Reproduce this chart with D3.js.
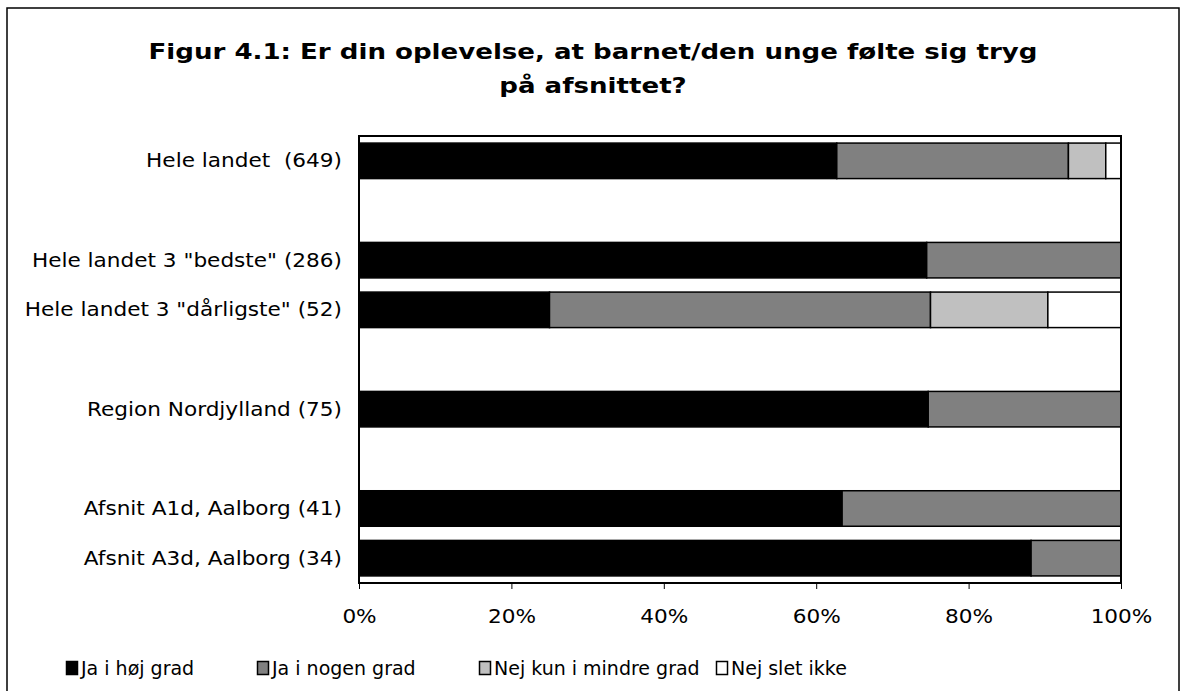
<!DOCTYPE html>
<html>
<head>
<meta charset="utf-8">
<script src="https://cdn.jsdelivr.net/npm/d3@7"></script>
<style>
  html, body { margin: 0; padding: 0; background: #fff; }
  svg { display: block; }
  text { font-family: "DejaVu Sans", Verdana, sans-serif; fill: #000; white-space: pre; }
</style>
</head>
<body>
<svg id="chart" width="1187" height="691"></svg>
<script>
// ---- Data ----
const titleLines = ["Figur 4.1: Er din oplevelse, at barnet/den unge følte sig tryg", "på afsnittet?"];
const categories = [
  "Hele landet  (649)",
  "",
  "Hele landet 3 \"bedste\" (286)",
  "Hele landet 3 \"dårligste\" (52)",
  "",
  "Region Nordjylland (75)",
  "",
  "Afsnit A1d, Aalborg (41)",
  "Afsnit A3d, Aalborg (34)"
];
const seriesNames = ["Ja i høj grad", "Ja i nogen grad", "Nej kun i mindre grad", "Nej slet ikke"];
const jaHoejGrad      = [62.7, 0, 74.5, 25.0, 0, 74.7, 0, 63.4, 88.2];
const jaNogenGrad     = [30.4, 0, 25.5, 50.0, 0, 25.3, 0, 36.6, 11.8];
const nejMindreGrad   = [4.9,  0, 0,    15.4, 0, 0,    0, 0,    0];
const nejSletIkke     = [2.0,  0, 0,    9.6,  0, 0,    0, 0,    0];
const xTicks = [0, 20, 40, 60, 80, 100];
const seriesColors = ["#000000", "#808080", "#c0c0c0", "#ffffff"];

// ---- Layout ----
const svg = d3.select("#chart");
const plot = { left: 359, right: 1121, top: 136, bottom: 583 };
const FONT = 20;
const WIDEN = 1.08; // Verdana is wider than DejaVu Sans

function widen(sel, factor) {
  sel.each(function () {
    const w = this.getComputedTextLength();
    if (w > 0) {
      d3.select(this).attr("textLength", w * factor).attr("lengthAdjust", "spacingAndGlyphs");
    }
  });
}

// outer frame
svg.append("rect").attr("x", 7).attr("y", 8).attr("width", 1172).attr("height", 700)
  .attr("fill", "none").attr("stroke", "#000").attr("stroke-width", 1.5);

// title
const titleG = svg.append("g");
titleLines.forEach((t, i) => {
  titleG.append("text").attr("text-anchor", "middle")
    .attr("font-size", 21).attr("font-weight", "bold")
    .attr("x", 593).attr("y", 59 + i * 34).text(t);
});
const titleTexts = titleG.selectAll("text");
const w0 = titleTexts.nodes()[0].getComputedTextLength();
widen(titleTexts, 889 / w0);

const x = d3.scaleLinear().domain([0, 100]).range([plot.left, plot.right]);
const y = d3.scaleBand().domain(d3.range(categories.length))
  .range([plot.top, plot.bottom]).paddingInner(0.285).paddingOuter(0.1425);

const rows = categories.map((c, i) => ({
  i, c,
  v: [jaHoejGrad[i], jaNogenGrad[i], nejMindreGrad[i], nejSletIkke[i]]
}));
const stack = d3.stack().keys([0, 1, 2, 3]).value((d, k) => d.v[k]);
const layers = stack(rows);

svg.append("g").selectAll("g").data(layers).join("g")
  .attr("fill", (d, k) => seriesColors[k])
  .selectAll("rect")
  .data(d => d.filter(p => p[1] - p[0] > 0))
  .join("rect")
  .attr("x", p => x(p[0]))
  .attr("width", p => x(p[1]) - x(p[0]))
  .attr("y", p => y(p.data.i))
  .attr("height", y.bandwidth())
  .attr("stroke", "#000").attr("stroke-width", 1.5);

// plot frame
svg.append("rect").attr("x", plot.left).attr("y", plot.top)
  .attr("width", plot.right - plot.left).attr("height", plot.bottom - plot.top)
  .attr("fill", "none").attr("stroke", "#000").attr("stroke-width", 2);

// x axis
const xAxis = svg.append("g").attr("transform", `translate(0,${plot.bottom})`)
  .call(d3.axisBottom(x).tickValues(xTicks).tickFormat(d => d + "%").tickSize(6).tickPadding(20));
xAxis.select(".domain").remove();
xAxis.selectAll("line").attr("stroke", "#000").attr("stroke-width", 1);
xAxis.selectAll("text").attr("font-size", FONT).attr("font-family", "DejaVu Sans, Verdana, sans-serif")
  .call(widen, WIDEN);

// y axis labels
const yAxis = svg.append("g").attr("transform", `translate(${plot.left},0)`)
  .call(d3.axisLeft(y).tickFormat(i => categories[i]).tickSize(0).tickPadding(17));
yAxis.select(".domain").remove();
yAxis.selectAll("text").attr("font-size", FONT).attr("font-family", "DejaVu Sans, Verdana, sans-serif")
  .call(widen, WIDEN);

// legend
const legendX = [66, 257, 479, 716];
const lg = svg.append("g").selectAll("g").data(seriesNames).join("g")
  .attr("transform", (d, k) => `translate(${legendX[k]},${668})`);
lg.append("rect").attr("x", 0.5).attr("y", -6.5).attr("width", 11).attr("height", 13)
  .attr("fill", (d, k) => seriesColors[k]).attr("stroke", "#000").attr("stroke-width", 1.5);
lg.append("text").attr("x", 15).attr("y", 0).attr("dy", "0.35em")
  .attr("font-size", 19).text(d => d);
</script>
</body>
</html>
